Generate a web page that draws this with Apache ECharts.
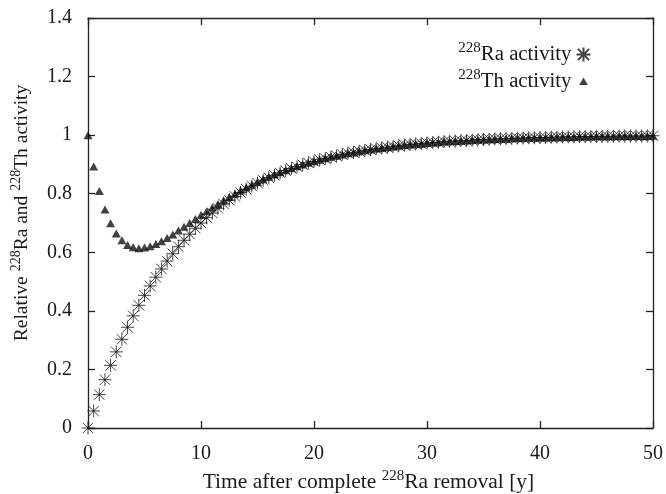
<!DOCTYPE html>
<html>
<head>
<meta charset="utf-8">
<script src="https://cdn.jsdelivr.net/npm/echarts@6/dist/echarts.min.js"></script>
<style>
html,body{margin:0;padding:0;background:#fff;}
#chart{width:666px;height:494px;}
</style>
</head>
<body>
<div id="chart"></div>
<script>
var times = [0,0.5,1,1.5,2,2.5,3,3.5,4,4.5,5,5.5,6,6.5,7,7.5,8,8.5,9,9.5,
  10,10.5,11,11.5,12,12.5,13,13.5,14,14.5,15,15.5,16,16.5,17,17.5,18,18.5,19,19.5,
  20,20.5,21,21.5,22,22.5,23,23.5,24,24.5,25,25.5,26,26.5,27,27.5,28,28.5,29,29.5,
  30,30.5,31,31.5,32,32.5,33,33.5,34,34.5,35,35.5,36,36.5,37,37.5,38,38.5,39,39.5,
  40,40.5,41,41.5,42,42.5,43,43.5,44,44.5,45,45.5,46,46.5,47,47.5,48,48.5,49,49.5,50];

var raActivity = [0,0.058,0.114,0.165,0.214,0.260,0.303,0.344,0.383,0.419,0.453,0.485,0.515,0.543,0.570,0.595,0.619,0.641,0.662,0.682,
  0.700,0.718,0.734,0.750,0.765,0.778,0.791,0.804,0.815,0.826,0.836,0.846,0.855,0.863,0.871,0.879,0.886,0.892,0.899,0.905,
  0.910,0.916,0.920,0.925,0.929,0.934,0.938,0.941,0.945,0.948,0.951,0.954,0.956,0.959,0.961,0.964,0.966,0.968,0.970,0.971,
  0.973,0.975,0.976,0.978,0.979,0.980,0.981,0.982,0.983,0.984,0.985,0.986,0.987,0.988,0.988,0.989,0.990,0.990,0.991,0.991,
  0.992,0.992,0.993,0.993,0.994,0.994,0.994,0.995,0.995,0.995,0.996,0.996,0.996,0.996,0.997,0.997,0.997,0.997,0.997,0.997,0.998];

var thActivity = [1,0.893,0.809,0.746,0.699,0.664,0.641,0.625,0.617,0.614,0.616,0.621,0.628,0.638,0.649,0.661,0.674,0.687,0.700,0.714,
  0.727,0.740,0.753,0.765,0.778,0.789,0.800,0.811,0.821,0.831,0.840,0.849,0.858,0.866,0.873,0.880,0.887,0.894,0.900,0.906,
  0.911,0.916,0.921,0.926,0.930,0.934,0.938,0.941,0.945,0.948,0.951,0.954,0.956,0.959,0.961,0.964,0.966,0.968,0.970,0.971,
  0.973,0.975,0.976,0.978,0.979,0.980,0.981,0.982,0.983,0.984,0.985,0.986,0.987,0.988,0.988,0.989,0.990,0.990,0.991,0.991,
  0.992,0.992,0.993,0.993,0.994,0.994,0.994,0.995,0.995,0.995,0.996,0.996,0.996,0.996,0.997,0.997,0.997,0.997,0.997,0.997,0.998];

var seriesNames = ['Ra', 'Th'];
var legendLabels = {Ra: '{sup|228}{n|Ra activity}', Th: '{sup|228}{n|Th activity}'};
var xAxisTitle = '{n|Time after complete }{sup|228}{n|Ra removal [y]}';
var yAxisTitle = '{n|Relative }{sup|228}{n|Ra and }{sup|228}{n|Th activity}';

var FONT = 'Liberation Serif';
var TXT = '#1a1a1a';
function rich(big, small, raise) {
  return {
    n: {fontFamily: FONT, fontSize: big, color: TXT},
    sup: {fontFamily: FONT, fontSize: small, color: TXT, padding: [0, 0, raise, 0]}
  };
}

function pairs(xs, ys) {
  var out = [];
  for (var i = 0; i < xs.length; i++) out.push([xs[i], ys[i]]);
  return out;
}

var star = 'path://M-1,-1L1,1M-1,1L1,-1M0,-1.25L0,1.25M-1.25,0L1.25,0';
var legendTri = 'path://M-1.6,-1.6L-1.6,-1.6M1.6,1.6L1.6,1.6M0,-0.9L1,0.8L-1,0.8Z';

var lineStyle = {color: '#222', width: 1.3};
function xAx(pos, show) {
  return {
    type: 'value', position: pos, min: 0, max: 50, interval: 10,
    axisLine: {show: true, onZero: false, lineStyle: lineStyle},
    axisTick: {show: true, inside: true, length: 7, lineStyle: lineStyle},
    splitLine: {show: false},
    axisLabel: {show: show, fontFamily: FONT, fontSize: 20, color: TXT, margin: 16},
    name: show ? xAxisTitle : '',
    nameLocation: 'middle', nameGap: 38,
    nameTextStyle: {rich: rich(21.5, 15, 12), padding: [0, 4, 0, 0]}
  };
}
function yAx(pos, show) {
  return {
    type: 'value', position: pos, min: 0, max: 1.4, interval: 0.2,
    axisLine: {show: true, onZero: false, lineStyle: lineStyle},
    axisTick: {show: true, inside: true, length: 7, lineStyle: lineStyle},
    splitLine: {show: false},
    axisLabel: {show: show, fontFamily: FONT, fontSize: 20, color: TXT, margin: 16,
      formatter: function (v) { return String(Math.round(v * 10) / 10); }},
    name: show ? yAxisTitle : '',
    nameLocation: 'middle', nameGap: 54,
    nameTextStyle: {rich: rich(19.5, 14, 11), padding: [0, 0, 0, 20]}
  };
}

var chart = echarts.init(document.getElementById('chart'), null, {renderer: 'canvas'});
chart.setOption({
  animation: false,
  backgroundColor: '#fff',
  grid: {left: 88, right: 13, top: 18, bottom: 66, containLabel: false, outerBoundsMode: 'none'},
  xAxis: [xAx('bottom', true), xAx('top', false)],
  yAxis: [yAx('left', true), yAx('right', false)],
  legend: {
    orient: 'vertical', right: 68, top: 36, align: 'right',
    itemWidth: 14, itemHeight: 14, itemGap: 3,
    data: [
      {name: seriesNames[0]},
      {name: seriesNames[1], icon: legendTri}
    ],
    formatter: function (name) { return legendLabels[name]; },
    textStyle: {rich: rich(20.8, 15, 12)}
  },
  series: [
    {
      name: seriesNames[0], type: 'scatter', data: pairs(times, raActivity),
      symbol: star, symbolSize: 13,
      itemStyle: {color: 'none', borderColor: '#151515', borderWidth: 1}
    },
    {
      name: seriesNames[1], type: 'scatter', data: pairs(times, thActivity),
      symbol: 'triangle', symbolSize: [9, 8],
      itemStyle: {color: '#111'}
    }
  ]
});
</script>
</body>
</html>
